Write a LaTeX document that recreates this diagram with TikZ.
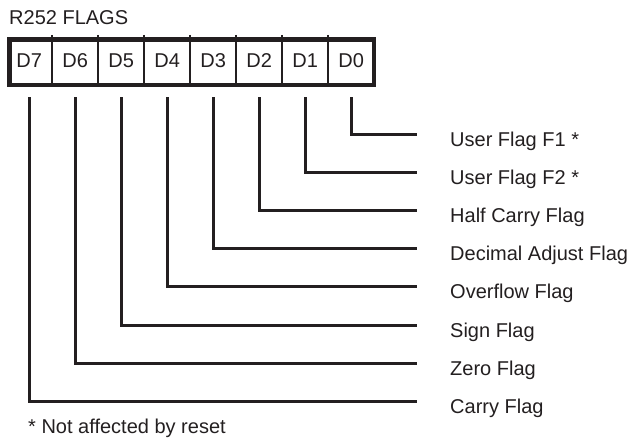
\documentclass[tikz,border=0pt]{standalone}
\usepackage{fontspec}
\setmainfont{Liberation Sans}
\usetikzlibrary{positioning,calc}
\definecolor{ink}{HTML}{231F20}
\newcommand{\flagfont}{\fontsize{20}{24}\selectfont}
\tikzset{
  bitcell/.style={minimum width=45.6pt, minimum height=46pt, inner sep=0pt, font=\flagfont, text=ink},
  divider/.style={draw=ink, line width=2.5pt},
  frame/.style={draw=ink, line width=4.5pt},
  wire/.style={draw=ink, line width=3pt, line join=miter},
  flaglabel/.style={anchor=base west, inner sep=0pt, font=\flagfont, text=ink}
}

\begin{document}
\begin{tikzpicture}[x=1pt, y=-1pt]
    \useasboundingbox (0,0) rectangle (629,439);

    \node[flaglabel] (title) at (9,24) {R252 FLAGS};

    % register bits
    \node[bitcell] (D7) at (29.2,61) {D7};
    \node[bitcell, right=0pt of D7] (D6) {D6};
    \node[bitcell, right=0pt of D6] (D5) {D5};
    \node[bitcell, right=0pt of D5] (D4) {D4};
    \node[bitcell, right=0pt of D4] (D3) {D3};
    \node[bitcell, right=0pt of D3] (D2) {D2};
    \node[bitcell, right=0pt of D2] (D1) {D1};
    \node[bitcell, right=0pt of D1] (D0) {D0};

    \foreach \b in {D7,D6,D5,D4,D3,D2,D1}
      \draw[divider] ($(\b.north east)+(0,-3)$) -- (\b.south east);
    \draw[frame] (9.6,39.5) rectangle (374,85);

    % line ends and flag names
    \coordinate (e0) at (417,134);
    \coordinate (e1) at (417,172.2);
    \coordinate (e2) at (417,210.4);
    \coordinate (e3) at (417,248.6);
    \coordinate (e4) at (417,286.8);
    \coordinate (e5) at (417,325);
    \coordinate (e6) at (417,363.2);
    \coordinate (e7) at (417,401.4);

    \node[flaglabel] (f0) at ($(e0)+(33,12)$) {User Flag F1 *};
    \node[flaglabel] (f1) at ($(e1)+(33,12)$) {User Flag F2 *};
    \node[flaglabel] (f2) at ($(e2)+(33,12)$) {Half Carry Flag};
    \node[flaglabel] (f3) at ($(e3)+(33,12)$) {Decimal Adjust Flag};
    \node[flaglabel] (f4) at ($(e4)+(33,12)$) {Overflow Flag};
    \node[flaglabel] (f5) at ($(e5)+(33,12)$) {Sign Flag};
    \node[flaglabel] (f6) at ($(e6)+(33,12)$) {Zero Flag};
    \node[flaglabel] (f7) at ($(e7)+(33,12)$) {Carry Flag};

    \foreach \k in {0,...,7}
      \draw[wire] ($(D\k.south)+(0,13)$) |- (e\k);

    \node[flaglabel] (note) at (28,433) {* Not affected by reset};
\end{tikzpicture}
\end{document}
